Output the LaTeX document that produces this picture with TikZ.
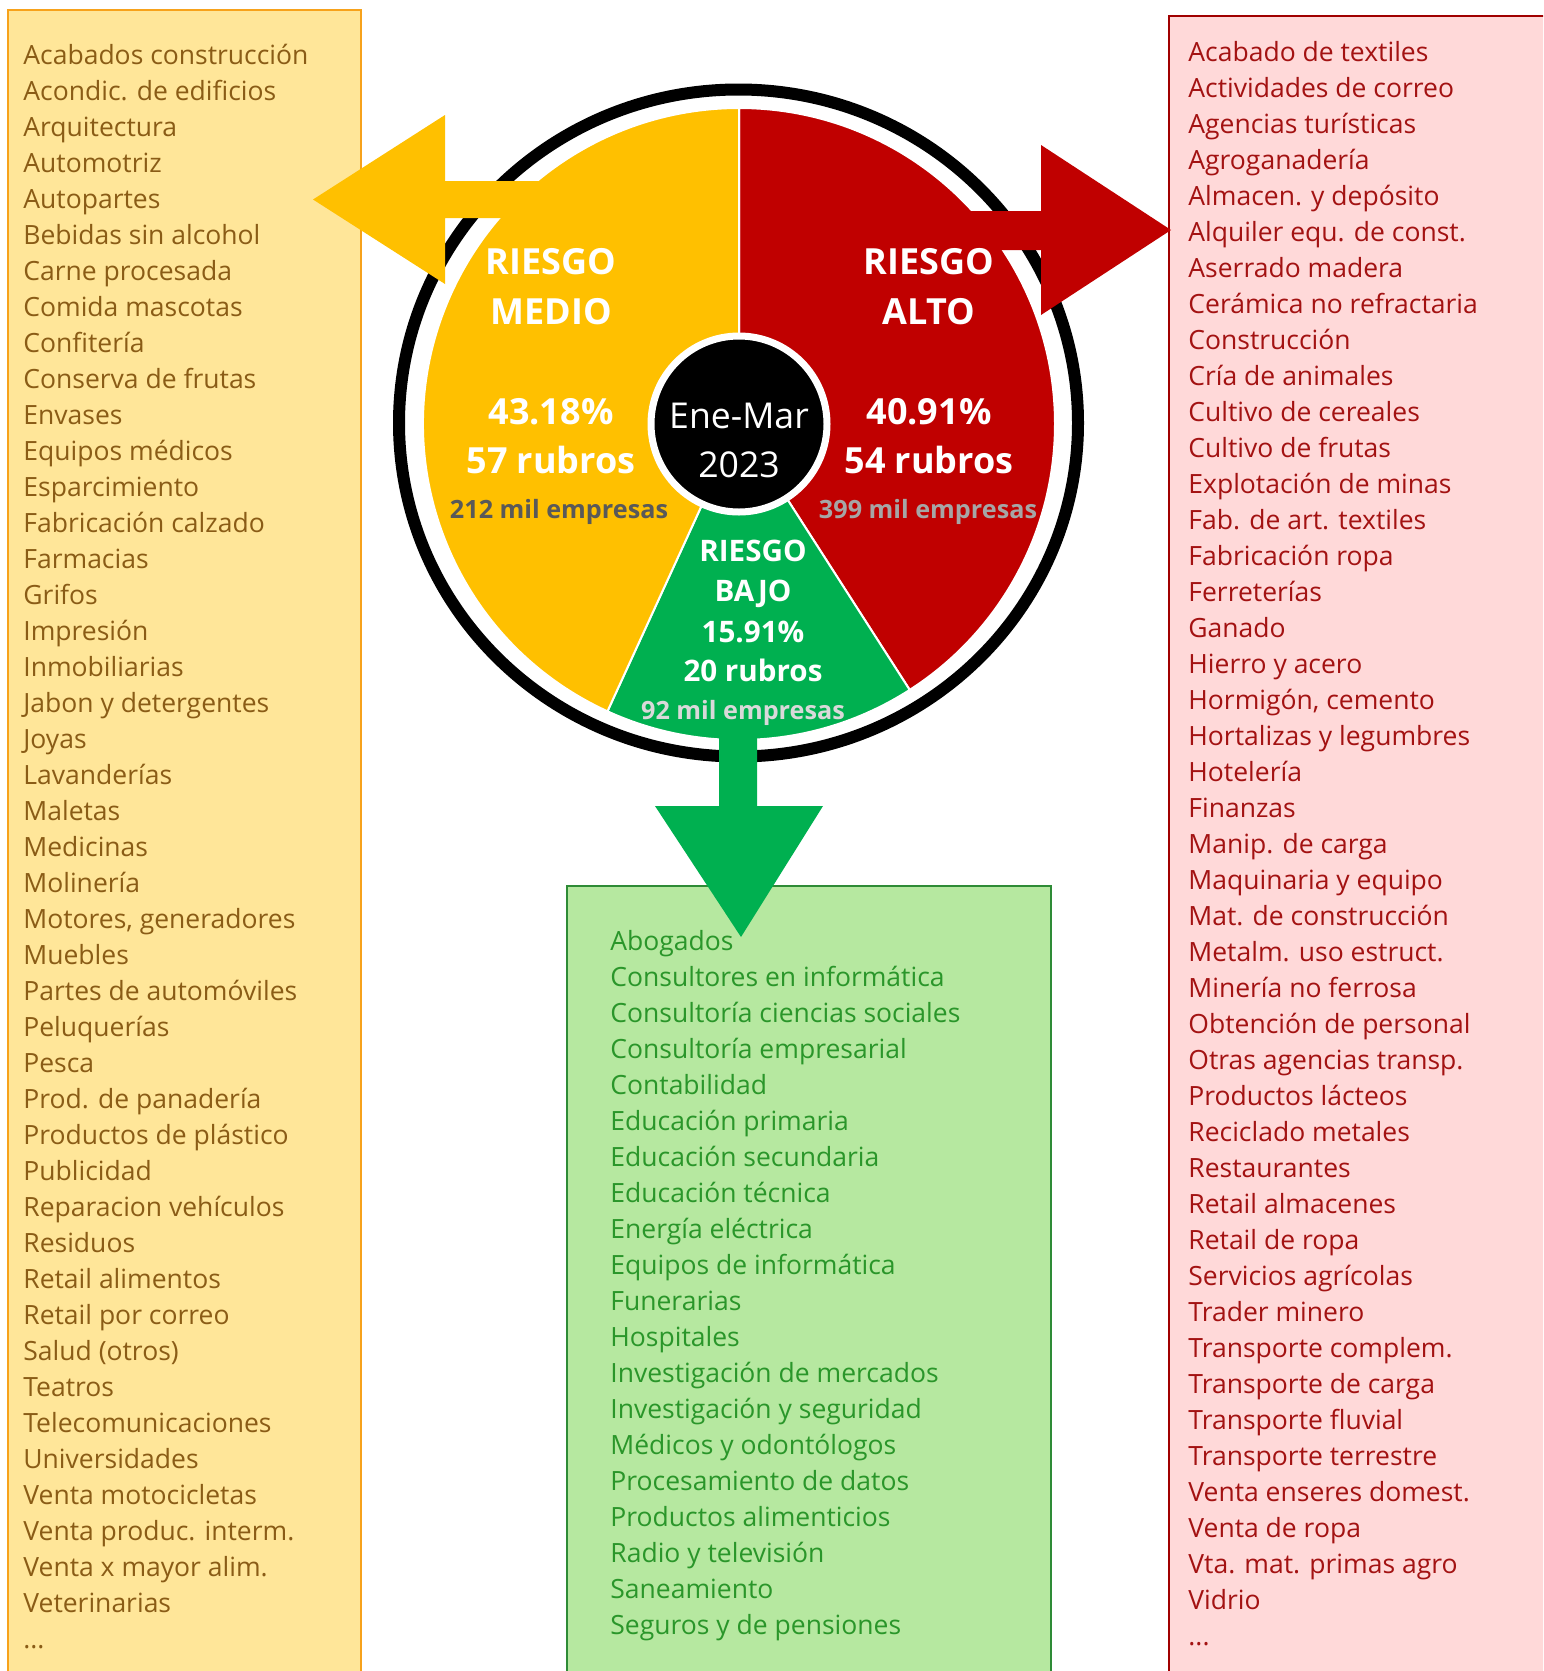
\documentclass[tikz,border=0pt]{standalone}
\usepackage{fontspec}
\setmainfont{Open Sans}
\definecolor{medio}{HTML}{FFC000}
\definecolor{alto}{HTML}{C00000}
\definecolor{bajo}{HTML}{00B050}
\definecolor{mediofill}{HTML}{FFE699}
\definecolor{medioline}{HTML}{F7A21B}
\definecolor{mediotext}{HTML}{8A5C16}
\definecolor{altofill}{HTML}{FFD9D9}
\definecolor{altoline}{HTML}{A00000}
\definecolor{altotext}{HTML}{A31212}
\definecolor{bajofill}{HTML}{B6E8A0}
\definecolor{bajoline}{HTML}{2E8B36}
\definecolor{bajotext}{HTML}{2A962A}
\definecolor{grisA}{HTML}{595959}
\definecolor{grisB}{HTML}{A6A6A6}
\definecolor{grisC}{HTML}{D9D9D9}
\tikzset{
  listitem/.style={anchor=base west, inner sep=0pt, font=\fontsize{13.25}{15}\selectfont},
  listmed/.style={listitem, text=mediotext},
  listalto/.style={listitem, text=altotext},
  listbajo/.style={listitem, text=bajotext},
  bigtxt/.style={anchor=base, inner sep=0pt, text=white, font=\bfseries\fontsize{18}{20}\selectfont},
  midtxt/.style={anchor=base, inner sep=0pt, text=white, font=\bfseries\fontsize{14.8}{17}\selectfont},
  emptxt/.style={anchor=base, inner sep=0pt, font=\bfseries\fontsize{12.6}{15}\selectfont},
  centxt/.style={anchor=base, inner sep=0pt, text=white, font=\fontsize{17.8}{20}\selectfont},
  listbox/.style={line width=0.75pt}
}
\begin{document}
\begin{tikzpicture}[x=0.5pt, y=0.5pt]
\clip (0,0) rectangle (1543,-1671);
\fill[white] (0,0) rectangle (1543,-1671);

\draw[listbox, medioline, fill=mediofill] (8,-10) rectangle (361,-1700);
\draw[listbox, altoline, fill=altofill] (1169,-16) rectangle (1600,-1700);
\draw[listbox, bajoline, fill=bajofill] (567,-886) rectangle (1051,-1700);

\coordinate (ctr) at (739,-424);
\draw[line width=6pt] (738.5,-423) ellipse [x radius=339.5, y radius=333.5];
\filldraw[alto, draw=white, line width=1pt] (ctr) -- ++(90:316) arc[start angle=90, end angle=-57.3, radius=316] -- cycle;
\filldraw[bajo, draw=white, line width=1pt] (ctr) -- ++(-57.3:316) arc[start angle=-57.3, end angle=-114.6, radius=316] -- cycle;
\filldraw[medio, draw=white, line width=1pt] (ctr) -- ++(-114.6:316) arc[start angle=-114.6, end angle=-270, radius=316] -- cycle;

\fill[medio] (560,-181) -- (445,-181) -- (445,-115) -- (313,-199.5) -- (445,-284) -- (445,-218) -- (560,-218) -- cycle;
\fill[alto] (900,-211) -- (1041,-211) -- (1041,-145) -- (1171,-230) -- (1041,-315) -- (1041,-250) -- (900,-250) -- cycle;
\fill[bajo] (719,-650) -- (719,-806) -- (655,-806) -- (741,-937) -- (823,-806) -- (757,-806) -- (757,-650) -- cycle;

\draw[white, fill=black, line width=3.5pt] (ctr) circle[radius=88];
\node (fecha) [centxt] at (739,-428) {Ene-Mar};
\node (anio) [centxt] at (739,-477) {2023};

\node (medR) [bigtxt] at (551,-274.5) {RIESGO};
\node (medM) [bigtxt] at (551,-324.5) {MEDIO};
\node (medP) [bigtxt] at (551,-424.5) {43.18\%};
\node (medN) [bigtxt] at (551,-473.5) {57 rubros};
\node (medE) [emptxt, text=grisA] at (559,-518) {212 mil empresas};

\node (altR) [bigtxt] at (929,-274.5) {RIESGO};
\node (altA) [bigtxt] at (929,-324.5) {ALTO};
\node (altP) [bigtxt] at (929,-424.5) {40.91\%};
\node (altN) [bigtxt] at (929,-473.5) {54 rubros};
\node (altE) [emptxt, text=grisB] at (928,-518) {399 mil empresas};

\node (bajR) [midtxt] at (753,-561) {RIESGO};
\node (bajB) [midtxt] at (753,-601) {BAJO};
\node (bajP) [midtxt] at (753,-642) {15.91\%};
\node (bajN) [midtxt] at (753,-681) {20 rubros};
\node (bajE) [emptxt, text=grisC] at (743,-719) {92 mil empresas};

\foreach \t [count=\i] in {Acabados construcción, Acondic. de edificios, Arquitectura,
  Automotriz, Autopartes, Bebidas sin alcohol, Carne procesada, Comida mascotas,
  Confitería, Conserva de frutas, Envases, Equipos médicos, Esparcimiento,
  Fabricación calzado, Farmacias, Grifos, Impresión, Inmobiliarias,
  Jabon y detergentes, Joyas, Lavanderías, Maletas, Medicinas, Molinería,
  {Motores, generadores}, Muebles, Partes de automóviles, Peluquerías, Pesca,
  Prod. de panadería, Productos de plástico, Publicidad, Reparacion vehículos,
  Residuos, Retail alimentos, Retail por correo, Salud (otros), Teatros,
  Telecomunicaciones, Universidades, Venta motocicletas, Venta produc. interm.,
  Venta x mayor alim., Veterinarias}
  \node (med\i) [listmed] at (23,{-64.5-36*(\i-1)}) {\t};
\node (med45) [listmed] at (23,{-64.5-36*44}) {...};

\foreach \t [count=\i] in {Acabado de textiles, Actividades de correo,
  Agencias turísticas, Agroganadería, Almacen. y depósito,
  Alquiler equ. de const., Aserrado madera, Cerámica no refractaria,
  Construcción, Cría de animales, Cultivo de cereales, Cultivo de frutas,
  Explotación de minas, Fab. de art. textiles, Fabricación ropa, Ferreterías,
  Ganado, Hierro y acero, {Hormigón, cemento}, Hortalizas y legumbres,
  Hotelería, Finanzas, Manip. de carga, Maquinaria y equipo,
  Mat. de construcción, Metalm. uso estruct., Minería no ferrosa,
  Obtención de personal, Otras agencias transp., Productos lácteos,
  Reciclado metales, Restaurantes, Retail almacenes, Retail de ropa,
  Servicios agrícolas, Trader minero, Transporte complem., Transporte de carga,
  Transporte fluvial, Transporte terrestre, Venta enseres domest.,
  Venta de ropa, Vta. mat. primas agro, Vidrio}
  \node (alt\i) [listalto] at (1188,{-61-36*(\i-1)}) {\t};
\node (alt45) [listalto] at (1188,{-61-36*44}) {...};

\foreach \t [count=\i] in {Abogados, Consultores en informática,
  Consultoría ciencias sociales, Consultoría empresarial, Contabilidad,
  Educación primaria, Educación secundaria, Educación técnica,
  Energía eléctrica, Equipos de informática, Funerarias, Hospitales,
  Investigación de mercados, Investigación y seguridad,
  Médicos y odontólogos, Procesamiento de datos, Productos alimenticios,
  Radio y televisión, Saneamiento, Seguros y de pensiones}
  \node (baj\i) [listbajo] at (610,{-950-36*(\i-1)}) {\t};
\end{tikzpicture}
\end{document}
